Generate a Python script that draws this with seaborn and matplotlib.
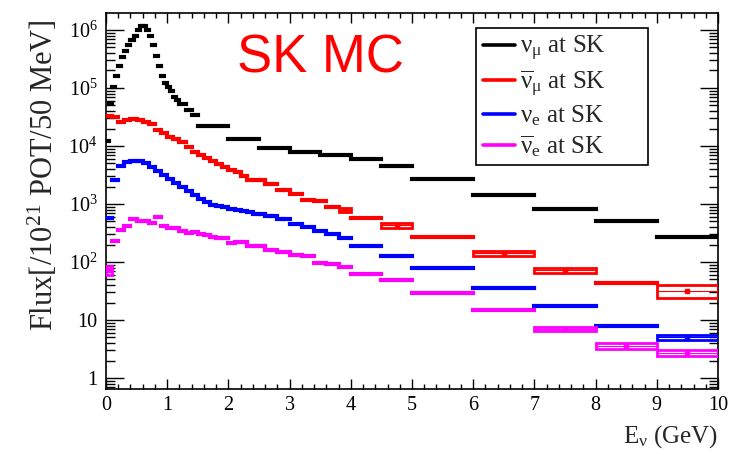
import numpy as np
import matplotlib
matplotlib.use("Agg")
import matplotlib.pyplot as plt
from matplotlib.lines import Line2D
from matplotlib.ticker import MultipleLocator, LogLocator, FuncFormatter, NullFormatter
import seaborn as sns

# ---------------- data: SK flux per 50 MeV per 1e21 POT ----------------
numu_edges = [0.0, 0.05, 0.1, 0.15, 0.2, 0.25, 0.3, 0.35, 0.4, 0.45, 0.5, 0.55,
              0.6, 0.65, 0.7, 0.75, 0.8, 0.85, 0.9, 0.95, 1.0, 1.05, 1.1, 1.15,
              1.2, 1.3, 1.4, 1.5, 2.0, 2.5, 3.0, 3.5, 4.0, 4.5, 5.0,
              6.0, 7.0, 8.0, 9.0, 10.0]
numu_flux = [1.2e4, 5.5e4, 1.05e5, 1.6e5, 2.4e5, 3.4e5, 4.3e5, 5.5e5, 6.6e5, 7.9e5,
             1.0e6, 1.15e6, 1.15e6, 1.0e6, 7.9e5, 5.5e5, 3.5e5, 2.4e5, 1.6e5, 1.2e5,
             1.05e5, 8.7e4, 7.0e4, 6.3e4, 5.3e4, 4.1e4, 3.4e4, 2.2e4, 1.3e4, 9.4e3,
             8.0e3, 7.1e3, 6.0e3, 4.5e3, 2.7e3, 1.45e3, 820, 510, 273]
numu_err = [0, 0, 0, 0, 0, 0, 0, 0, 0, 0, 0, 0, 0, 0, 0, 0, 0, 0, 0, 0,
            0, 0, 0, 0, 0, 0, 0, 0, 0, 0, 0, 0, 0, 0, 0, 0, 0, 0, 0]

# antineutrino / electron-flavour histograms share one binning
e_edges = [0.0, 0.1, 0.2, 0.3, 0.4, 0.5, 0.6, 0.7, 0.8, 0.9, 1.0, 1.1, 1.2, 1.3,
           1.4, 1.5, 1.6, 1.7, 1.8, 1.9, 2.0, 2.1, 2.2, 2.3, 2.4, 2.5, 2.6, 2.7,
           2.8, 2.9, 3.0, 3.2, 3.4, 3.6, 3.8, 4.0, 4.5, 5.0, 6.0, 7.0, 8.0, 9.0, 10.0]

numubar_flux = [3.3e4, 3.2e4, 2.6e4, 2.8e4, 2.9e4, 2.8e4, 2.6e4, 2.4e4, 1.9e4, 1.65e4,
                1.45e4, 1.3e4, 1.15e4, 9.7e3, 8.0e3, 7.0e3, 6.1e3, 5.4e3, 4.9e3, 4.3e3,
                3.85e3, 3.5e3, 3.0e3, 2.6e3, 2.6e3, 2.6e3, 2.2e3, 2.2e3, 1.75e3, 1.75e3,
                1.5e3, 1.15e3, 1.12e3, 870, 790, 570, 435, 273, 141, 73, 43, 32]
numubar_err = [0, 0, 0, 0, 0, 0, 0, 0, 0, 0, 0, 0, 0, 0, 0, 0, 0, 0, 0, 0,
               0, 0, 0, 0, 0, 0, 0, 0, 0, 0, 0, 0, 0, 0, 0.08, 0, 0.10, 0, 0.10, 0.10,
               0, 0.25]

nue_flux = [580, 2.6e3, 4.5e3, 5.2e3, 5.5e3, 5.5e3, 5.0e3, 4.3e3, 3.7e3, 3.2e3,
            2.7e3, 2.3e3, 1.97e3, 1.68e3, 1.43e3, 1.23e3, 1.07e3, 960, 920, 870,
            830, 790, 760, 720, 670, 670, 620, 620, 540, 540,
            460, 400, 345, 300, 255, 190, 127, 78, 36, 17.7, 8.0, 5.0]
nue_err = [0, 0, 0, 0, 0, 0, 0, 0, 0, 0, 0, 0, 0, 0, 0, 0, 0, 0, 0, 0,
           0, 0, 0, 0, 0, 0, 0, 0, 0, 0, 0, 0, 0, 0, 0, 0, 0, 0, 0, 0, 0, 0.10]

nuebar_flux = [73, 230, 355, 420, 540, 510, 500, 470, 600, 420,
               390, 385, 340, 310, 335, 300, 290, 268, 255, 255,
               215, 220, 225, 185, 185, 185, 162, 162, 148, 148,
               130, 126, 96, 94, 81, 63, 49, 29.5, 15, 7.0, 3.6, 2.7]
nuebar_err = [0.17, 0, 0, 0, 0, 0, 0, 0, 0, 0, 0, 0, 0, 0, 0, 0, 0, 0, 0, 0,
              0, 0, 0, 0, 0, 0, 0, 0, 0, 0, 0, 0, 0, 0, 0, 0, 0, 0, 0, 0.09, 0.12, 0.13]

series_labels = [r"$\mathrm{\nu_{\mu}}$ at SK",
                 r"$\mathrm{\overline{\nu}_{\mu}}$ at SK",
                 r"$\mathrm{\nu_{e}}$ at SK",
                 r"$\mathrm{\overline{\nu}_{e}}$ at SK"]
series_colors = ["#000000", "#ff0000", "#0000ff", "#ff00ff"]

# ---------------- style ----------------
sns.set_theme(style="ticks")
plt.rcParams.update({
    "font.family": ["Liberation Serif", "DejaVu Serif"],
    "mathtext.fontset": "custom",
    "mathtext.rm": "Liberation Serif",
    "mathtext.it": "Liberation Serif:italic",
    "mathtext.bf": "Liberation Serif:bold",
    "axes.linewidth": 1.2,
    "axes.edgecolor": "black",
    "xtick.color": "black",
    "ytick.color": "black",
})

fig = plt.figure(figsize=(7.3, 4.55), dpi=100)
ax = fig.add_axes([106 / 730, 66 / 455, 612 / 730, 376 / 455])


def draw_hist(ax, edges, vals, errs, color):
    lo = np.asarray(edges[:-1], dtype=float)
    hi = np.asarray(edges[1:], dtype=float)
    v = np.asarray(vals, dtype=float)
    e = np.asarray(errs, dtype=float)
    solid = e == 0
    ax.hlines(v[solid], lo[solid], hi[solid], colors=color, linewidth=3.0,
              capstyle="projecting", zorder=3)
    box = ~solid
    if box.any():
        ax.bar(lo[box], v[box] * 2 * e[box], width=hi[box] - lo[box],
               bottom=v[box] * (1 - e[box]), align="edge", fill=False,
               edgecolor=color, linewidth=2.0, zorder=3)
        ax.hlines(v[box], lo[box], hi[box], colors=color, linewidth=0.8, zorder=3)
        ax.plot(((lo + hi) / 2)[box], v[box], marker="s", ms=2.2, ls="none",
                color=color, zorder=3)


draw_hist(ax, numu_edges, numu_flux, numu_err, series_colors[0])
draw_hist(ax, e_edges, numubar_flux, numubar_err, series_colors[1])
draw_hist(ax, e_edges, nue_flux, nue_err, series_colors[2])
draw_hist(ax, e_edges, nuebar_flux, nuebar_err, series_colors[3])

ax.set_yscale("log")
ax.set_xlim(0, 10)
ax.set_ylim(0.646, 1.96e6)

ax.xaxis.set_major_locator(MultipleLocator(1))
ax.xaxis.set_minor_locator(MultipleLocator(0.2))
ax.yaxis.set_major_locator(LogLocator(base=10, numticks=12))
ax.yaxis.set_minor_locator(LogLocator(base=10, subs=np.arange(2, 10), numticks=12))


def ylab(v, pos):
    n = int(round(np.log10(v)))
    if n == 0:
        return "1"
    if n == 1:
        return "10"
    return r"$10^{%d}$" % n


ax.yaxis.set_major_formatter(FuncFormatter(ylab))
ax.yaxis.set_minor_formatter(NullFormatter())

ax.tick_params(axis="both", which="both", direction="in", top=True, right=True,
               width=1.0, labelsize=14.5)
ax.tick_params(axis="x", which="major", length=7.5, pad=5)
ax.tick_params(axis="x", which="minor", length=3.8)
ax.tick_params(axis="y", which="major", length=13, pad=6)
ax.tick_params(axis="y", which="minor", length=6.5)
ax.xaxis.get_offset_text().set_visible(False)
ax.yaxis.get_offset_text().set_visible(False)
ax.yaxis.label.set_visible(False)

ax.set_xlabel(r"$\mathrm{E_{\nu}}$ (GeV)", fontsize=18, loc="right")
ax.xaxis.set_label_coords(1.0, -0.09)
fig.text(43 / 730, 1 - 175 / 455, r"Flux[/10$^{21}$ POT/50 MeV]", rotation=90,
         ha="center", va="center", fontsize=22)

ax.text(0.351, 0.843, "SK MC", transform=ax.transAxes, ha="center",
        va="baseline", color="#ff0000", fontsize=38, family="Liberation Sans")

handles = [Line2D([], [], color=c, lw=2.6) for c in series_colors]
leg = ax.legend(handles, series_labels, loc="upper left",
                bbox_to_anchor=(0.605, 0.604, 0.281, 0.356), mode="expand",
                fontsize=18, frameon=True,
                fancybox=False, edgecolor="black", framealpha=1,
                handlelength=1.3, handletextpad=0.2, borderpad=0.25,
                labelspacing=0.2, borderaxespad=0)
leg.get_frame().set_linewidth(1.2)

fig.savefig("out.png", dpi=100)
